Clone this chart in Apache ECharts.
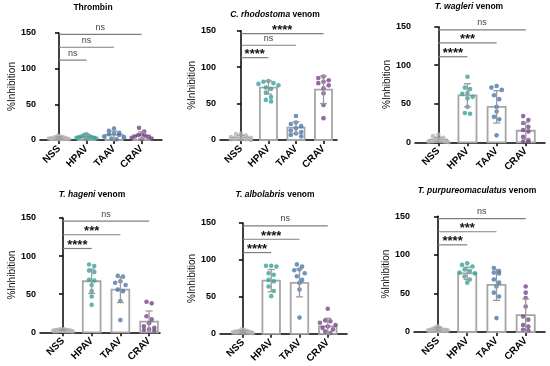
<!DOCTYPE html>
<html><head><meta charset="utf-8">
<script src="https://cdn.jsdelivr.net/npm/echarts@6/dist/echarts.min.js"></script>
<style>html,body{margin:0;padding:0;background:#fff}#c{width:550px;height:366px}</style>
</head><body><div id="c"></div>
<script>
// ---------------- DATA ----------------
const categories = ['NSS', 'HPAV', 'TAAV', 'CRAV'];
const yTicks = [0, 50, 100, 150];

// Panel 1: Thrombin
const thrombinPoints = [
  [1, 2, 2, 3, 3, 4, 4, 5, 6, 2],
  [1, 2, 3, 4, 4, 5, 6, 7, 8, 3],
  [1, 2, 4, 5, 7, 8, 9, 10, 13, 16],
  [1, 2, 3, 4, 5, 6, 7, 8, 12, 17]
];
const thrombinMeans = [3, 4.3, 7.5, 6.5];
const thrombinSD = [1.5, 2.2, 4.8, 4.8];
const thrombinSig = ['ns', 'ns', 'ns'];
const thrombinSigY = [112, 130, 148];

// Panel 2: C. rhodostoma venom
const rhodostomaPoints = [
  [0, 1, 1, 2, 2, 3, 4, 6, 8, 9],
  [53, 55, 59, 65, 70, 72, 75, 77, 78, 80, 81],
  [5, 7, 9, 11, 13, 16, 19, 22, 24, 33],
  [30, 48, 64, 71, 75, 78, 80, 82, 85, 87]
];
const rhodostomaMeans = [3.5, 72, 17, 69];
const rhodostomaSD = [3, 9, 8, 19];
const rhodostomaSig = ['****', 'ns', '****'];
const rhodostomaSigY = [113, 130, 146];

// Panel 3: T. wagleri venom
const wagleriPoints = [
  [0, 1, 1, 2, 3, 3, 4, 6, 8, 10],
  [37, 38, 46, 57, 59, 63, 64, 69, 71, 85],
  [9, 30, 33, 40, 46, 56, 61, 68, 71, 73],
  [1, 1, 3, 7, 14, 16, 20, 25, 29, 34]
];
const wagleriMeans = [3.5, 61, 46, 15];
const wagleriSD = [3, 15, 21, 11];
const wagleriSig = ['****', '***', 'ns'];
const wagleriSigY = [111, 129, 146];

// Panel 4: T. hageni venom
const hageniPoints = [
  [1, 2, 2, 3, 3, 3, 4, 4, 4, 3],
  [36, 47, 54, 62, 68, 69, 79, 81, 87, 89],
  [16, 41, 54, 56, 62, 65, 67, 73, 74],
  [2, 3, 4, 6, 8, 12, 17, 21, 38, 40]
];
const hageniMeans = [3, 67, 56, 14];
const hageniSD = [1, 16, 17, 14];
const hageniSig = ['****', '***', 'ns'];
const hageniSigY = [110, 128, 146];

// Panel 5: T. albolabris venom
const albolabrisPoints = [
  [1, 2, 2, 3, 3, 4, 4, 5, 6, 3],
  [51, 58, 64, 71, 73, 80, 82, 91, 92, 92],
  [22, 60, 69, 73, 78, 82, 86, 87, 91, 94],
  [1, 3, 6, 8, 10, 12, 15, 17, 18, 34]
];
const albolabrisMeans = [3, 72, 69, 10];
const albolabrisSD = [1.5, 15, 19, 11];
const albolabrisSig = ['****', '****', 'ns'];
const albolabrisSigY = [110, 128, 146];

// Panel 6: T. purpureomaculatus venom
const purpureoPoints = [
  [1, 2, 2, 3, 3, 4, 5, 6, 7, 3],
  [64, 68, 72, 76, 77, 79, 81, 85, 87, 89],
  [18, 46, 51, 59, 64, 68, 76, 77, 79, 83],
  [2, 3, 7, 9, 16, 20, 33, 44, 51, 59]
];
const purpureoMeans = [3.5, 76, 61, 22];
const purpureoSD = [2, 8, 20, 21];
const purpureoSig = ['****', '***', 'ns'];
const purpureoSigY = [113, 130, 147];

// ---------------- STYLE / LAYOUT ----------------
const FONT = '"Liberation Sans", Arial, sans-serif';
const pointColors = ['#b4b4b4', '#3aa39a', '#4a78ad', '#77468a'];

const panels = [
  { title: 'Thrombin', italic: null, pts: thrombinPoints, means: thrombinMeans, sd: thrombinSD, sig: thrombinSig, sigY: thrombinSigY,
    left: 40, top: 33, width: 122, height: 107, xMin: -0.69, xMax: 3.74, tx: 93, ty: 8 },
  { title: ' venom', italic: 'C. rhodostoma', pts: rhodostomaPoints, means: rhodostomaMeans, sd: rhodostomaSD, sig: rhodostomaSig, sigY: rhodostomaSigY,
    left: 220, top: 30.7, width: 117, height: 109.3, xMin: -0.76, xMax: 3.49, tx: 275, ty: 15 },
  { title: ' venom', italic: 'T. wagleri', pts: wagleriPoints, means: wagleriMeans, sd: wagleriSD, sig: wagleriSig, sigY: wagleriSigY,
    left: 415, top: 26.7, width: 130, height: 115.6, xMin: -0.80, xMax: 3.66, tx: 469, ty: 7.5 },
  { title: ' venom', italic: 'T. hageni', pts: hageniPoints, means: hageniMeans, sd: hageniSD, sig: hageniSig, sigY: hageniSigY,
    left: 40, top: 218, width: 120, height: 114.3, xMin: -0.80, xMax: 3.38, tx: 92, ty: 195 },
  { title: ' venom', italic: 'T. albolabris', pts: albolabrisPoints, means: albolabrisMeans, sd: albolabrisSD, sig: albolabrisSig, sigY: albolabrisSigY,
    left: 220, top: 223, width: 127, height: 111, xMin: -0.81, xMax: 3.68, tx: 275, ty: 195 },
  { title: ' venom', italic: 'T. purpureomaculatus', pts: purpureoPoints, means: purpureoMeans, sd: purpureoSD, sig: purpureoSig, sigY: purpureoSigY,
    left: 414, top: 216.3, width: 131, height: 115.7, xMin: -0.82, xMax: 3.66, tx: 477, ty: 191.5 }
];

// GraphPad-like scatter spreading: points whose heights fall in the same row are laid side by side,
// highest in the middle. Returns horizontal offsets in category units.
function spread(vals, pxX, pxY) {
  const ROW = 4.6, STEP = 5.2, HALF = 10;
  const order = vals.map((v, i) => i).sort((a, b) => vals[b] - vals[a]);
  const offs = new Array(vals.length).fill(0);
  let row = [];
  const flush = () => {
    const n = row.length;
    let step = STEP;
    if (n > 1 && (n - 1) * step / 2 > HALF) step = 2 * HALF / (n - 1);
    // slots from centre outwards, alternating sides
    const slots = [];
    for (let k = 0; k < n; k++) slots.push(k - (n - 1) / 2);
    slots.sort((a, b) => Math.abs(a) - Math.abs(b) || a - b);
    row.forEach((idx, k) => { offs[idx] = (slots[k] * step) / pxX; });
    row = [];
  };
  let rowTop = null;
  for (const i of order) {
    const y = vals[i] * pxY;
    if (rowTop === null || rowTop - y > ROW) { if (row.length) flush(); rowTop = y; }
    row.push(i);
  }
  if (row.length) flush();
  return offs;
}

const grids = [], xAxes = [], yAxes = [], series = [], titles = [];

panels.forEach((p, pi) => {
  grids.push({ left: p.left, top: p.top, width: p.width, height: p.height, containLabel: false });
  xAxes.push({
    gridIndex: pi, type: 'value', min: p.xMin, max: p.xMax,
    axisLine: { show: true, onZero: false, lineStyle: { color: '#000', width: 1.5 } },
    axisTick: { show: true, customValues: [0, 1, 2, 3], length: 4, lineStyle: { color: '#000', width: 1.5 } },
    axisLabel: { customValues: [0, 1, 2, 3], formatter: v => categories[Math.round(v)], rotate: 45, margin: 7,
      fontSize: 10, fontWeight: 'bold', fontFamily: FONT, color: '#000' },
    splitLine: { show: false }
  });
  yAxes.push({
    gridIndex: pi, type: 'value', min: yTicks[0], max: yTicks[yTicks.length - 1], interval: 50,
    name: '%Inhibition', nameLocation: 'middle', nameGap: 23,
    nameTextStyle: { fontSize: 10, fontFamily: FONT, color: '#111' },
    axisLine: { show: true, lineStyle: { color: '#000', width: 1.5 } },
    axisTick: { show: true, length: 4, lineStyle: { color: '#000', width: 1.5 } },
    axisLabel: { margin: 4, fontSize: 9, fontWeight: 'bold', fontFamily: FONT, color: '#000' },
    splitLine: { show: false }
  });

  const spacing = p.width / (p.xMax - p.xMin);
  const pxY = p.height / 150;

  // bars (mean)
  series.push({
    type: 'custom', xAxisIndex: pi, yAxisIndex: pi, z: 2,
    data: p.means.map((m, i) => [i, m]),
    renderItem: (params, api) => {
      const x = api.value(0), m = api.value(1);
      const a = api.coord([x - 0.31, m]);
      const b = api.coord([x + 0.31, 0]);
      return { type: 'rect', shape: { x: a[0], y: a[1], width: b[0] - a[0], height: b[1] - a[1] },
        style: { fill: '#fff', stroke: '#a6a6a6', lineWidth: 1.8 } };
    }
  });

  // points
  const ptsData = [];
  p.pts.forEach((vals, ci) => {
    const offs = spread(vals, spacing, pxY);
    vals.forEach((v, k) => ptsData.push({ value: [ci + offs[k], v], itemStyle: { color: pointColors[ci] } }));
  });
  series.push({
    type: 'scatter', xAxisIndex: pi, yAxisIndex: pi, z: 3, clip: false,
    symbol: 'circle', symbolSize: 4.6, data: ptsData
  });

  // error bars
  series.push({
    type: 'custom', xAxisIndex: pi, yAxisIndex: pi, z: 4,
    data: p.means.map((m, i) => [i, m, p.sd[i]]),
    renderItem: (params, api) => {
      const x = api.value(0), m = api.value(1), s = api.value(2);
      const hi = api.coord([x, m + s]);
      const lo = api.coord([x, Math.max(0, m - s)]);
      const w = 3.5;
      const st = { stroke: '#9a9a9a', lineWidth: 1.3 };
      return { type: 'group', children: [
        { type: 'line', shape: { x1: hi[0], y1: hi[1], x2: lo[0], y2: lo[1] }, style: st },
        { type: 'line', shape: { x1: hi[0] - w, y1: hi[1], x2: hi[0] + w, y2: hi[1] }, style: st },
        { type: 'line', shape: { x1: lo[0] - w, y1: lo[1], x2: lo[0] + w, y2: lo[1] }, style: st }
      ] };
    }
  });

  // significance brackets
  series.push({
    type: 'custom', xAxisIndex: pi, yAxisIndex: pi, z: 5,
    data: p.sigY.map((y, k) => [0, k + 1, y]),
    encode: { x: [0, 1], y: 2 },
    renderItem: (params, api) => {
      const a = api.coord([api.value(0), api.value(2)]);
      const b = api.coord([api.value(1), api.value(2)]);
      const lab = p.sig[params.dataIndex];
      const star = lab !== 'ns';
      return { type: 'group', children: [
        { type: 'line', shape: { x1: a[0], y1: a[1], x2: b[0], y2: b[1] }, style: { stroke: '#7f7f7f', lineWidth: 1.2 } },
        { type: 'text', x: (a[0] + b[0]) / 2, y: a[1] + (star ? 3.5 : -2.5),
          style: { text: lab, align: 'center', verticalAlign: 'bottom',
            fontSize: star ? 13 : 9, fontWeight: star ? 'bold' : 'normal', fontFamily: FONT,
            fill: star ? '#111' : '#444' } }
      ] };
    }
  });

  titles.push({
    text: p.italic ? '{i|' + p.italic + '}{n|' + p.title + '}' : p.title,
    left: p.tx, top: p.ty - 5, textAlign: 'center', padding: 0,
    textStyle: { fontSize: 8.5, fontWeight: 'bold', fontFamily: FONT, color: '#000',
      rich: {
        i: { fontSize: 8.5, fontWeight: 'bold', fontStyle: 'italic', fontFamily: FONT, color: '#000' },
        n: { fontSize: 8.5, fontWeight: 'bold', fontFamily: FONT, color: '#000' }
      } }
  });
});

const chart = echarts.init(document.getElementById('c'), null, { renderer: 'canvas' });
chart.setOption({
  animation: false,
  backgroundColor: '#fff',
  title: titles,
  grid: grids,
  xAxis: xAxes,
  yAxis: yAxes,
  series: series
});
</script>
</body></html>
